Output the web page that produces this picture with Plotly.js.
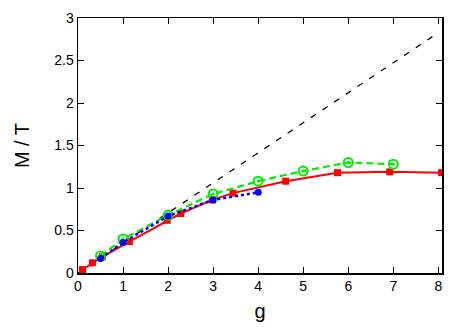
<!DOCTYPE html>
<html>
<head>
<meta charset="utf-8">
<script src="https://cdn.plot.ly/plotly-3.0.1.min.js"></script>
<style>
  body { margin: 0; background: #fff; }
  #graph { width: 468px; height: 327px; }
</style>
</head>
<body>
<div id="graph"></div>
<script>
// reference line (dashed black)
var refX = [0, 7.95];
var refY = [0, 2.81];

// red squares, solid line
var redX = [0.1, 0.32, 0.54, 1.14, 1.98, 2.28, 2.98, 3.44, 4.61, 5.76, 6.92, 8.07];
var redY = [0.04, 0.12, 0.19, 0.37, 0.62, 0.70, 0.86, 0.94, 1.08, 1.18, 1.19, 1.18];

// green open circles, dashed line
var greenX = [0.5, 1, 2, 3, 4, 5, 6, 7];
var greenY = [0.20, 0.40, 0.68, 0.93, 1.08, 1.20, 1.30, 1.28];

// blue filled circles, dotted line
var blueX = [0.5, 1, 2, 3, 4];
var blueY = [0.17, 0.36, 0.67, 0.86, 0.95];

var xTicks = [0, 1, 2, 3, 4, 5, 6, 7, 8];
var yTicks = [0, 0.5, 1, 1.5, 2, 2.5, 3];

function drawGraph() {
    var refLine = {
        x: refX, y: refY, type: 'scatter', mode: 'lines',
        line: { color: '#000', width: 1.3, dash: '6px,8px' }
    };
    var red = {
        x: redX, y: redY, type: 'scatter', mode: 'lines+markers',
        line: { color: '#ff0000', width: 2 },
        marker: { symbol: 'square', size: 7, color: '#ff0000' }
    };
    var green = {
        x: greenX, y: greenY, type: 'scatter', mode: 'lines+markers',
        line: { color: '#00ee00', width: 2.2, dash: '7px,4px' },
        marker: { symbol: 'circle-open-dot', size: 9, color: '#00ee00', line: { width: 2, color: '#00ee00' } }
    };
    var blue = {
        x: blueX, y: blueY, type: 'scatter', mode: 'lines+markers',
        line: { color: '#0000ff', width: 2.5, dash: 'dot' },
        marker: { symbol: 'circle', size: 7, color: '#0000ff' }
    };
    var data = [refLine, red, green, blue];

    var axisCommon = {
        showline: true, linecolor: '#000', linewidth: 1.5, mirror: 'ticks',
        ticks: 'inside', ticklen: 6, tickwidth: 1, tickcolor: '#000',
        showgrid: false, zeroline: false,
        tickfont: { family: 'Liberation Sans, Arial, sans-serif', size: 14, color: '#000' }
    };

    var layout = {
        width: 468, height: 327,
        margin: { l: 78, r: 26, t: 18, b: 54 },
        paper_bgcolor: '#fff', plot_bgcolor: '#fff',
        showlegend: false,
        xaxis: Object.assign({}, axisCommon, {
            range: [0, 8.08], tickvals: xTicks,
            title: { text: 'g', font: { family: 'Liberation Sans, Arial, sans-serif', size: 20, color: '#000' }, standoff: 10 }
        }),
        yaxis: Object.assign({}, axisCommon, {
            range: [0, 3], tickvals: yTicks,
            title: { text: 'M / T', font: { family: 'Liberation Sans, Arial, sans-serif', size: 20, color: '#000' }, standoff: 19 }
        })
    };

    Plotly.newPlot('graph', data, layout, { staticPlot: true });
}
drawGraph();
</script>
</body>
</html>
